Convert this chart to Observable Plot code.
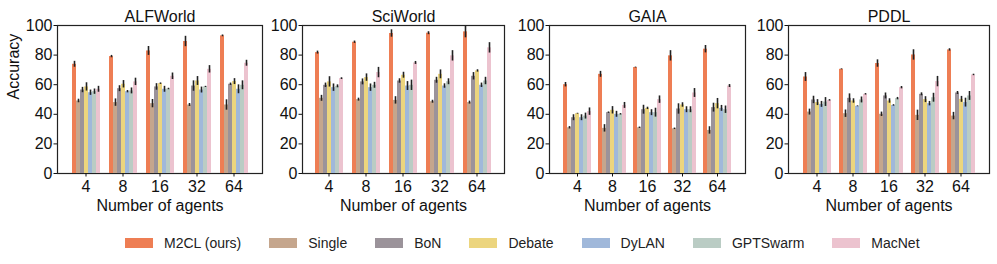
<!DOCTYPE html>
<html><head><meta charset="utf-8">
<script src="https://cdn.jsdelivr.net/npm/d3@7"></script>
<script src="https://cdn.jsdelivr.net/npm/@observablehq/plot@0.6"></script>
<style>
body{margin:0;background:#fff;font-family:"Liberation Sans",Arial,Helvetica,sans-serif;}
#chart{position:relative;width:997px;height:264px;overflow:hidden;background:#fff}
.panel{position:absolute;top:0}
svg.panel text{font-size:16px;fill:#111}
#legend{position:absolute;top:236px;left:125px;display:flex;gap:28px;font-size:14px;color:#222;white-space:nowrap;line-height:14px}
.item{display:flex;align-items:center;gap:11px}
.sw{width:28px;height:10px}
</style></head>
<body><div id="chart"><div id="legend"></div></div>
<script>
const agents = ["4", "8", "16", "32", "64"];
const methods = ["M2CL (ours)", "Single", "BoN", "Debate", "DyLAN", "GPTSwarm", "MacNet"];
const colors = ["#EE7E54", "#C5A68D", "#9B939A", "#ECD57E", "#A0B8DA", "#BACCC4", "#ECC3CF"];
const datasets = ["ALFWorld", "SciWorld", "GAIA", "PDDL"];

// mean accuracy: rows = agent counts, columns = methods
const alfworldMean = [
  [73.8, 49.0, 56.4, 58.5, 54.6, 55.3, 56.9],
  [79.0, 47.9, 57.3, 60.3, 55.3, 55.8, 61.9],
  [82.8, 47.2, 58.5, 60.7, 56.9, 57.1, 65.7],
  [89.2, 46.3, 59.1, 62.5, 56.4, 58.5, 70.4],
  [93.0, 46.3, 60.3, 62.1, 56.9, 59.6, 74.5]
];
const alfworldErr = [
  [2.0, 1.2, 1.8, 2.8, 1.8, 1.8, 2.0],
  [0.8, 2.5, 2.0, 2.5, 0.8, 2.0, 2.5],
  [3.0, 2.8, 2.2, 0.5, 2.0, 0.5, 2.2],
  [3.5, 1.0, 3.5, 3.0, 2.0, 0.4, 2.5],
  [0.6, 3.5, 0.8, 2.0, 3.0, 3.0, 2.0]
];
const sciworldMean = [
  [81.7, 50.8, 59.6, 61.9, 58.0, 58.9, 64.1],
  [88.7, 49.9, 61.9, 64.8, 58.0, 59.6, 68.2],
  [94.6, 49.4, 62.5, 66.4, 59.1, 59.6, 74.7],
  [94.8, 48.5, 63.0, 67.0, 59.1, 62.0, 79.5],
  [95.7, 47.9, 65.7, 69.3, 59.6, 62.5, 84.9]
];
const sciworldErr = [
  [1.0, 2.0, 1.5, 3.5, 2.5, 1.0, 0.6],
  [0.8, 1.0, 2.0, 2.5, 2.5, 2.0, 3.5],
  [2.5, 2.5, 1.5, 2.0, 3.0, 3.5, 1.0],
  [1.0, 1.0, 2.0, 3.0, 1.5, 2.0, 3.5],
  [4.0, 1.0, 2.5, 0.8, 1.5, 2.5, 3.5]
];
const gaiaMean = [
  [60.0, 30.9, 37.7, 40.4, 37.7, 38.8, 41.8],
  [67.0, 30.5, 41.1, 42.7, 40.0, 40.0, 46.0],
  [71.6, 30.9, 43.1, 44.0, 41.1, 41.1, 49.9],
  [79.5, 30.2, 43.6, 46.3, 43.1, 43.1, 54.4],
  [84.0, 29.1, 44.5, 47.2, 44.0, 43.1, 59.1]
];
const gaiaErr = [
  [1.5, 0.8, 2.0, 0.3, 2.0, 2.0, 2.5],
  [2.0, 2.5, 0.5, 2.5, 2.0, 0.5, 2.0],
  [0.3, 0.5, 3.0, 0.8, 2.0, 3.0, 2.5],
  [3.5, 0.5, 3.5, 1.5, 2.0, 2.0, 3.0],
  [2.5, 2.5, 3.0, 3.5, 2.0, 2.5, 1.0]
];
const pddlMean = [
  [65.2, 41.5, 49.7, 47.9, 46.7, 48.3, 49.4],
  [70.4, 40.4, 50.8, 49.0, 45.4, 49.7, 53.5],
  [74.3, 40.0, 52.4, 49.0, 46.0, 50.6, 58.0],
  [80.1, 39.3, 53.5, 49.9, 47.2, 51.2, 62.1],
  [83.5, 38.8, 54.4, 50.1, 47.9, 52.4, 66.6]
];
const pddlErr = [
  [3.0, 2.0, 2.5, 2.0, 2.0, 3.0, 0.5],
  [0.3, 2.5, 3.0, 1.5, 0.3, 2.0, 0.5],
  [2.5, 1.5, 2.0, 1.5, 0.5, 0.8, 0.8],
  [3.5, 3.5, 1.0, 2.0, 1.5, 3.0, 3.5],
  [0.8, 2.5, 1.0, 2.0, 3.0, 3.0, 0.5]
];
const yTicks = [0, 20, 40, 60, 80, 100];

const means = [alfworldMean, sciworldMean, gaiaMean, pddlMean];
const errs = [alfworldErr, sciworldErr, gaiaErr, pddlErr];

// layout (pixel frame edges of each panel)
const frameL = [57, 302, 549, 788];
const frameR = [262, 504, 745, 989];
const mL = 57, mR = 5, mT = 25, mB = 47, H = 220;

const chart = document.getElementById("chart");
const styleBase = {background: "transparent", overflow: "visible", fontSize: "16px", fontFamily: "'Liberation Sans', Arial, sans-serif", color: "#111"};

datasets.forEach((name, di) => {
  const rows = [];
  agents.forEach((a, gi) => methods.forEach((m, mi) => {
    rows.push({agents: a, method: m, value: means[di][gi][mi], err: errs[di][gi][mi]});
  }));
  const W = frameR[di] - frameL[di] + mL + mR;
  const left = frameL[di] - mL;

  const base = Plot.plot({
    width: W, height: H, marginLeft: mL, marginRight: mR, marginTop: mT, marginBottom: mB,
    style: styleBase,
    x: {axis: null, domain: [0, 1]},
    y: {domain: [0, 100], ticks: yTicks, tickSize: 3.5, tickPadding: 1.5, label: null},
    marks: [
      Plot.text([name], {frameAnchor: "top", lineAnchor: "middle", dy: -9, fontSize: 16, fill: "#111"}),
      Plot.text(["Number of agents"], {frameAnchor: "bottom", lineAnchor: "middle", dy: 32, fontSize: 16, fill: "#111"}),
      di === 0 ? Plot.text(["Accuracy"], {frameAnchor: "left", dx: -44, rotate: -90, fontSize: 16, fill: "#111"}) : null,
      Plot.frame({stroke: "#222", strokeWidth: 1.2})
    ]
  });

  const bars = Plot.plot({
    width: W, height: H, marginLeft: mL, marginRight: mR, marginTop: mT, marginBottom: mB,
    style: styleBase,
    fx: {domain: agents, paddingInner: 0.15, paddingOuter: 0.3, tickSize: 3.5, tickPadding: 4, label: null},
    x: {axis: null, domain: methods, padding: 0},
    y: {axis: null, domain: [0, 100]},
    color: {domain: methods, range: colors},
    marks: [
      Plot.barY(rows, {fx: "agents", x: "method", y: "value", fill: "method", inset: 0}),
      Plot.ruleX(rows, {fx: "agents", x: "method", y1: d => d.value - d.err, y2: d => d.value + d.err, stroke: "#222", strokeWidth: 1.6})
    ]
  });

  [base, bars].forEach(svg => {
    svg.classList.add("panel");
    svg.style.left = left + "px";
    svg.style.top = "0px";
    chart.appendChild(svg);
  });
});

const legend = document.getElementById("legend");
methods.forEach((m, i) => {
  const it = document.createElement("div");
  it.className = "item";
  const sw = document.createElement("div");
  sw.className = "sw";
  sw.style.background = colors[i];
  const tx = document.createElement("span");
  tx.textContent = m;
  it.appendChild(sw); it.appendChild(tx);
  legend.appendChild(it);
});
chart.appendChild(legend);
</script>
</body></html>
